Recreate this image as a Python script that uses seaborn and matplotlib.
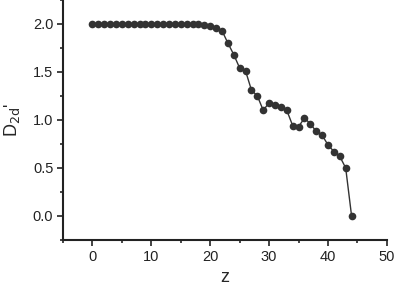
import matplotlib
matplotlib.use("Agg")
import matplotlib.pyplot as plt
import seaborn as sns
import pandas as pd
from matplotlib.ticker import MultipleLocator

z = list(range(45))
d2d = [2.0]*18 + [1.995, 1.99, 1.98, 1.96, 1.93, 1.80, 1.68, 1.54, 1.51, 1.31, 1.25, 1.10,
                  1.18, 1.16, 1.14, 1.10, 0.94, 0.93, 1.02, 0.96, 0.88, 0.84, 0.74, 0.67,
                  0.62, 0.50, 0.0]

df = pd.DataFrame({"z": z, "D": d2d})

sns.set_theme(style="ticks")
plt.rcParams['font.family'] = ['Liberation Sans', 'DejaVu Sans']

fig = plt.figure(figsize=(3.94, 2.88), dpi=100)
ax = fig.add_axes([0.16, 0.167, 0.822, 0.833])
sns.lineplot(data=df, x="z", y="D", ax=ax, color="#333333", linewidth=1.0,
             marker="o", markersize=5.5, markeredgewidth=0, markerfacecolor="#333333")

ax.set_xlim(-5, 50)
ax.set_ylim(-0.25, 2.25)
ax.xaxis.set_major_locator(MultipleLocator(10))
ax.xaxis.set_minor_locator(MultipleLocator(5))
ax.yaxis.set_major_locator(MultipleLocator(0.5))
ax.yaxis.set_minor_locator(MultipleLocator(0.25))
ax.yaxis.set_major_formatter(matplotlib.ticker.FormatStrFormatter('%.1f'))
ax.tick_params(which="major", direction="out", length=4, width=1.2, labelsize=10.5,
               colors="#222222", pad=3)
ax.tick_params(which="minor", direction="out", length=2.5, width=1.2)
for s in ["top", "right"]:
    ax.spines[s].set_visible(False)
for s in ["left", "bottom"]:
    ax.spines[s].set_linewidth(1.5)
    ax.spines[s].set_color("#222222")
ax.set_xlabel("z", fontsize=13, labelpad=4)
ax.set_ylabel("D$_{\\mathrm{2d}}$'", fontsize=13, labelpad=8)

fig.savefig("out.png", dpi=100)
